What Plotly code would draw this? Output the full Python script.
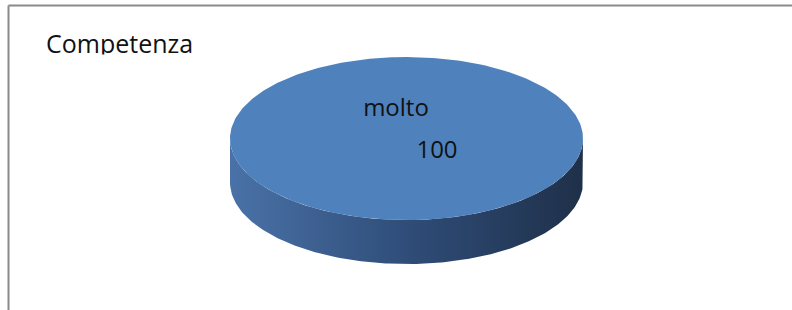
import numpy as np
import plotly.graph_objects as go

# ---- data ----
title_text = "Competenza"
categories = ["molto"]
values = [100]

# ---- geometry / style (pixel space) ----
W, H = 792, 310
cx, cy = 406.5, 138.5   # centre of top face
rx, ry = 176.5, 81.5    # radii of top face
depth = 44              # thickness of the 3D pie
top_color = "#4f81bd"
side_left, side_right = "#4a72a8", "#1f3049"
FONT = "Open Sans, Lato, sans-serif"

fig = go.Figure()

total = float(sum(values))
start = -np.pi / 2  # first slice starts at top (12 o'clock)

# side wall (front half of the ellipse, extruded down)
t = np.linspace(np.pi, 0, 200)  # left -> right along front (lower) arc
ux = cx + rx * np.cos(t)
uy = cy + ry * np.sin(t)
xs = np.concatenate([ux, ux[::-1]])
ys = np.concatenate([uy, (uy + depth)[::-1]])
fig.add_trace(go.Scatter(
    x=xs, y=ys, mode="lines", fill="toself", line=dict(width=0),
    fillcolor=side_left,
    fillgradient=dict(type="horizontal",
                      colorscale=[[0, side_left], [0.5, "#2f4d78"], [1, side_right]]),
    hoverinfo="skip", showlegend=False))

# top faces of slices, from data
ang = start
for cat, v in zip(categories, values):
    sweep = 2 * np.pi * v / total
    th = np.linspace(ang, ang + sweep, 300)
    px = cx + rx * np.cos(th)
    py = cy + ry * np.sin(th)
    if v < total:
        px = np.concatenate([[cx], px, [cx]])
        py = np.concatenate([[cy], py, [cy]])
    fig.add_trace(go.Scatter(
        x=px, y=py, mode="lines", fill="toself", line=dict(width=0),
        fillcolor=top_color, name=cat, hoverinfo="skip", showlegend=False))
    ang += sweep

# slice labels
fig.add_trace(go.Scatter(
    x=[396, 437], y=[110, 152], mode="text",
    text=[categories[0], str(values[0])],
    textfont=dict(family=FONT, size=24, color="#111111"),
    hoverinfo="skip", showlegend=False))

# title (as text trace so it can be clipped like the reference)
fig.add_trace(go.Scatter(
    x=[46], y=[47], mode="text", text=[title_text], textposition="middle right",
    textfont=dict(family=FONT, size=25, color="#111111"),
    hoverinfo="skip", showlegend=False))
fig.add_shape(type="rect", x0=30, y0=54.5, x1=215, y1=66, xref="x", yref="y",
              line=dict(width=0), fillcolor="white", layer="above")

# outer frame: only top and left edges are inside the picture
fig.add_shape(type="line", x0=8.5, y0=5.5, x1=W + 5, y1=5.5, xref="x", yref="y",
              line=dict(color="#8a8a8a", width=2), layer="above")
fig.add_shape(type="line", x0=8.5, y0=5.5, x1=8.5, y1=H + 5, xref="x", yref="y",
              line=dict(color="#8a8a8a", width=2), layer="above")

fig.update_xaxes(range=[0, W], visible=False, fixedrange=True)
fig.update_yaxes(range=[H, 0], visible=False, fixedrange=True)
fig.update_layout(width=W, height=H, margin=dict(l=0, r=0, t=0, b=0),
                  paper_bgcolor="white", plot_bgcolor="white")

fig.write_html("out.html", config={"displayModeBar": False},
               post_script="document.body.style.margin='0';document.body.style.overflow='hidden';")
